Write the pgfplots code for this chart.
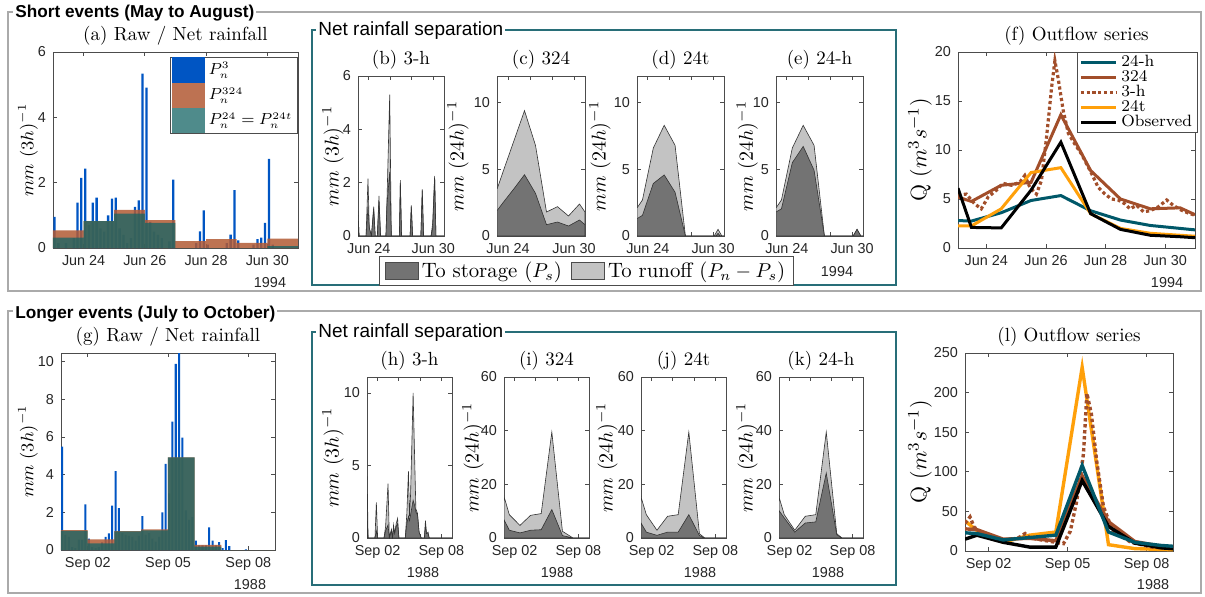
\documentclass[border=0pt]{standalone}
\usepackage{fontspec}
\setsansfont{Liberation Sans}
\usepackage{pgfplots}
\pgfplotsset{compat=1.18}

\definecolor{matblue}{RGB}{0,85,195}
\definecolor{rorange}{RGB}{178,90,52}
\definecolor{rteal}{RGB}{20,100,100}
\definecolor{legorange}{RGB}{189,114,82}
\definecolor{legteal}{RGB}{79,139,139}
\definecolor{lteal}{RGB}{0,88,105}
\definecolor{lbrown}{RGB}{162,78,42}
\definecolor{lorange}{RGB}{255,160,10}
\definecolor{frameteal}{RGB}{40,110,120}
\definecolor{framegray}{RGB}{170,170,170}
\definecolor{stor}{RGB}{115,115,115}
\definecolor{runo}{RGB}{195,195,195}

\pgfplotsset{
  base/.style={
    scale only axis, anchor=south west,
    axis line style={black!70, line width=0.4pt},
    every tick/.append style={black!70, line width=0.4pt},
    major tick length=1.8pt, tick align=inside,
    tick label style={font=\fontsize{7.2}{8.5}\sffamily, text=black!85},
    /pgf/number format/assume math mode=true,
    every axis title shift=0pt,
    title style={font=\fontsize{9.5}{11}\selectfont},
    xmin=0, xmax=8, ymin=0,
    ylabel style={anchor=center},
  },
  mid/.style={base, height=80pt,
    ylabel style={font=\fontsize{10.2}{11}\selectfont}},
  runoff/.style={fill=runo, draw=black!80, line width=0.3pt},
  storage/.style={fill=stor, draw=black!80, line width=0.3pt},
}

\begin{document}
\begin{tikzpicture}
\useasboundingbox (0,0) rectangle (602.5pt,-298pt);
\begin{scope}[x=0.5pt,y=-0.5pt]
\draw[framegray, line width=1pt] (8,12) rectangle (1201,291);
\draw[framegray, line width=1pt] (8,311) rectangle (1201,593);
\draw[frameteal, line width=0.7pt] (312,30) rectangle (896,285);
\draw[frameteal, line width=0.7pt] (312,332) rectangle (896,585);
\node[anchor=west, fill=white, inner xsep=1pt, inner ysep=0.5pt, font=\fontsize{8.6}{10}\sffamily\bfseries] at (13,13) {Short events (May to August)};
\node[anchor=west, fill=white, inner xsep=1pt, inner ysep=0.5pt, font=\fontsize{8.6}{10}\sffamily\bfseries] at (13,314) {Longer events (July to October)};
\node[anchor=west, fill=white, inner xsep=1pt, inner ysep=0pt, font=\fontsize{9.5}{11}\sffamily] at (316,31) {Net rainfall separation};
\node[anchor=west, fill=white, inner xsep=1pt, inner ysep=0pt, font=\fontsize{9.5}{11}\sffamily] at (316,333) {Net rainfall separation};
\end{scope}

% ---------------- (a)
\begin{axis}[base, at={(26.5pt,-124pt)}, width=122.5pt, height=98pt,
  ymax=6, ytick={0,2,4,6}, xtick={1,3,5,7}, xticklabels={Jun 24,Jun 26,Jun 28,Jun 30},
  title={(a) Raw / Net rainfall},
  ylabel={$mm~(3h)^{-1}$},
  ylabel style={font=\fontsize{9.2}{10}\selectfont, at={(axis description cs:-0.102,0.5)}},
  legend style={at={(1,0.975)}, anchor=north east, font=\fontsize{7.6}{8.5}\selectfont,
    draw=black!70, line width=0.4pt, inner xsep=0.5pt, inner ysep=0pt},
  legend cell align=left,
  legend image code/.code={\path (0pt,-6.3pt) rectangle (16.5pt,6.3pt);
    \fill[#1] (0pt,-4.5pt) rectangle (16.5pt,4.5pt);}]
\addplot[ybar, bar width=0.075, bar shift=0pt, fill=matblue, draw=none, forget plot] coordinates {
(0.05,0.95)(0.175,0.15)(0.425,0.15)(0.675,0.3)(0.8,1.39)(0.925,2.15)(1.05,2.43)(1.175,0.7)
(1.3,1.39)(1.425,1.54)(1.55,0.6)(1.675,0.5)(1.8,1.0)(1.925,1.51)(2.05,1.54)(2.175,0.6)
(2.3,0.4)(2.425,0.15)(2.55,0.3)(2.675,1.26)(2.8,1.46)(2.925,5.34)(3.05,4.91)(3.175,0.8)
(3.3,0.5)(3.425,0.4)(3.55,0.3)(3.8,0.2)(3.925,2.09)(4.675,0.15)(4.8,0.51)(4.925,1.15)
(5.05,0.1)(5.675,0.15)(5.8,0.41)(5.925,1.77)(6.05,0.23)(6.55,0.1)(6.675,0.27)(6.8,0.32)
(6.925,0.77)(7.05,2.73)(7.175,0.1)};
\addplot[const plot, fill=rorange, fill opacity=0.85, draw=none, forget plot] coordinates {
(0,0.54)(1,0.82)(2,1.17)(3,0.85)(4,0.21)(5,0.27)(6,0.16)(7,0.29)(8,0.29)} \closedcycle;
\addplot[const plot, fill=rteal, fill opacity=0.75, draw=none, forget plot] coordinates {
(0,0.32)(1,0.82)(2,1.05)(3,0.77)(4,0)(7,0.06)(8,0.06)} \closedcycle;
\addlegendimage{fill=matblue, draw=none}
\addlegendentry{$P_n^3$}
\addlegendimage{fill=legorange, draw=none}
\addlegendentry{$P_n^{324}$}
\addlegendimage{fill=legteal, draw=none}
\addlegendentry{$P_n^{24}=P_n^{24t}$}
\end{axis}

% ---------------- (b)
\begin{axis}[mid, at={(179pt,-118pt)}, width=43pt,
  ymax=6, ytick={0,2,4,6}, xtick={1,3,5,7}, xticklabels={Jun 24,,,Jun 30},
  title={(b) 3-h}, ylabel={$mm~(3h)^{-1}$},
  ylabel style={at={(axis description cs:-0.29,0.5)}}]
\addplot[runoff] coordinates {(0,0.95)(0.1,0)(0.75,0)(0.93,2.15)(1.05,0.3)(1.25,0)(1.46,1.1)(1.6,0)(1.8,0)(1.95,1.5)(2.1,0)(2.6,0)(2.7,1.4)(2.95,5.3)(3.1,0)(3.85,0)(3.94,2.1)(4.05,0)(4.85,0)(4.96,1.15)(5.08,0)(5.85,0)(5.98,1.75)(6.1,0)(6.8,0)(6.95,0.5)(7.13,2.25)(7.25,0)(8,0)} \closedcycle;
\addplot[storage] coordinates {(0,0.95)(0.1,0)(0.75,0)(0.93,1.1)(1.05,0.3)(1.25,0)(1.46,1.0)(1.6,0)(1.8,0)(1.95,1.3)(2.1,0)(2.6,0)(2.7,1.2)(2.95,2.4)(3.1,0)(3.85,0)(3.94,2.0)(4.05,0)(4.85,0)(4.96,1.1)(5.08,0)(5.85,0)(5.98,1.7)(6.1,0)(6.8,0)(6.95,0.3)(7.13,2.2)(7.25,0)(8,0)} \closedcycle;
\end{axis}

% ---------------- (c)
\begin{axis}[mid, at={(248.5pt,-118pt)}, width=44pt,
  ymax=12, ytick={0,5,10}, xtick={1,3,5,7}, xticklabels={Jun 24,,,Jun 30},
  title={(c) 324}, ylabel={$mm~(24h)^{-1}$},
  ylabel style={at={(axis description cs:-0.443,0.5)}},
  legend style={at={(1.017,-0.219)}, anchor=center, font=\fontsize{10.4}{11}\selectfont,
    draw=black!70, line width=0.4pt, inner xsep=2.5pt, inner ysep=0.5pt,
    nodes={inner xsep=1.5pt},
    /tikz/every even column/.append style={column sep=3pt}},
  legend columns=2,
  legend image code/.code={\draw[#1] (0pt,-4.2pt) rectangle (16.7pt,4.2pt);}]
\addplot[runoff, forget plot] coordinates {(0,3.5)(0.5,4.7)(1.5,7.05)(2.5,9.4)(3.5,6.8)(4.5,1.8)(5.5,2.2)(6.5,1.5)(7.5,2.4)(8,1.8)} \closedcycle;
\addplot[storage, forget plot] coordinates {(0,1.9)(0.5,2.45)(1.5,3.5)(2.5,4.6)(3.5,3.2)(4.5,0.85)(5.5,1.05)(6.5,0.75)(7.5,1.2)(8,0.85)} \closedcycle;
\addlegendimage{fill=stor, draw=black!70, line width=0.4pt}
\addlegendentry{To storage ($P_s$)}
\addlegendimage{fill=runo, draw=black!70, line width=0.4pt}
\addlegendentry{To runoff ($P_n-P_s$)}
\end{axis}

% ---------------- (d)
\begin{axis}[mid, at={(318.5pt,-118pt)}, width=43.5pt,
  ymax=12, ytick={0,5,10}, xtick={1,3,5,7}, xticklabels={Jun 24,,,Jun 30},
  title={(d) 24t}, ylabel={$mm~(24h)^{-1}$},
  ylabel style={at={(axis description cs:-0.425,0.5)}}]
\addplot[runoff] coordinates {(0,2.1)(0.5,2.7)(1.5,6.6)(2.5,8.3)(3.5,6.8)(4.45,0)(7.1,0)(7.45,0.5)(7.8,0)(8,0)} \closedcycle;
\addplot[storage] coordinates {(0,1.3)(0.5,1.55)(1.5,3.94)(2.5,4.58)(3.5,3.28)(4.45,0)(7.25,0)(7.45,0.2)(7.65,0)(8,0)} \closedcycle;
\end{axis}

% ---------------- (e)
\begin{axis}[mid, at={(388pt,-118pt)}, width=43.5pt,
  ymax=12, ytick={0,5,10}, xtick={1,3,5,7}, xticklabels={Jun 24,,,Jun 30},
  title={(e) 24-h}, ylabel={$mm~(24h)^{-1}$},
  ylabel style={at={(axis description cs:-0.33,0.5)}}]
\addplot[runoff] coordinates {(0,2.1)(0.5,2.7)(1.5,6.6)(2.5,8.3)(3.5,6.8)(4.45,0)(7.1,0)(7.45,0.5)(7.8,0)(8,0)} \closedcycle;
\addplot[storage] coordinates {(0,1.8)(0.5,2.04)(1.5,5.5)(2.5,6.72)(3.5,4.93)(4.45,0)(7.1,0)(7.45,0.5)(7.8,0)(8,0)} \closedcycle;
\end{axis}

% ---------------- (f)
\begin{axis}[base, at={(479pt,-124pt)}, width=118.5pt, height=98pt,
  xmin=0.05, ymax=20, ytick={0,5,10,15,20}, xtick={1,3,5,7}, xticklabels={Jun 24,Jun 26,Jun 28,Jun 30},
  title={(f) Outflow series}, ylabel={$\mathrm{Q}~(m^3s^{-1})$},
  ylabel style={font=\fontsize{11.2}{12}\selectfont, at={(axis description cs:-0.16,0.5)}},
  legend style={at={(1.013,1)}, anchor=north east, font=\fontsize{8.2}{8.5}\selectfont,
    draw=black!70, line width=0.4pt, inner sep=0.8pt, row sep=-0.6pt, nodes={inner ysep=0.5pt}},
  legend cell align=left,
  legend image code/.code={\draw[#1] (0pt,0pt) -- (17.5pt,0pt);}]
\addplot[lteal, line width=1.5pt] coordinates {(0.05,2.8)(0.5,2.75)(1.5,3.6)(2.5,4.85)(3.5,5.35)(4.5,3.8)(5.5,2.85)(6.5,2.3)(7.5,2.0)(8,1.85)};
\addlegendentry{24-h}
\addplot[lbrown, line width=1.5pt] coordinates {(0.05,5.2)(0.5,4.75)(1.5,6.4)(2.5,6.7)(3.5,13.6)(4.5,7.9)(5.5,5.0)(6.5,4.0)(7.5,4.1)(8,3.4)};
\addlegendentry{324}
\addplot[lbrown, line width=1.6pt, dash pattern=on 1.6pt off 1.3pt] coordinates {(0.05,5.4)(0.33,5.5)(0.61,4.5)(0.83,4.0)(1.06,5.2)(1.34,5.9)(1.56,6.6)(1.84,6.4)(2.12,6.7)(2.29,7.4)(2.46,6.2)(2.68,5.5)(2.85,6.9)(3.02,11.3)(3.19,16.4)(3.3,19.1)(3.41,17.3)(3.58,14)(3.75,11.7)(3.97,10.6)(4.19,9.6)(4.36,8.6)(4.53,7.6)(4.75,6.2)(4.98,5.5)(5.2,5.0)(5.42,4.9)(5.65,4.5)(5.82,4.0)(6.04,4.35)(6.27,3.7)(6.49,3.8)(6.77,4.2)(7.05,4.9)(7.27,4.35)(7.55,3.85)(7.83,3.5)(8,3.35)};
\addlegendentry{3-h}
\addplot[lorange, line width=1.5pt] coordinates {(0.05,2.25)(0.5,2.25)(1.5,4.0)(2.5,7.7)(3.5,8.2)(4.5,3.5)(5.5,2.0)(6.5,1.5)(7.5,1.3)(8,1.2)};
\addlegendentry{24t}
\addplot[black, line width=1.5pt] coordinates {(0.05,6.1)(0.5,2.1)(1.5,2.05)(2.5,5.9)(3.5,10.8)(4.5,3.5)(5.5,1.9)(6.5,1.3)(7.5,1.15)(8,1.05)};
\addlegendentry{Observed}
\end{axis}

% ---------------- (g)
\begin{axis}[base, at={(30.5pt,-275pt)}, width=107pt, height=98.5pt,
  ymax=10.45, ytick={0,2,4,6,8,10}, xtick={1,4,7}, xticklabels={Sep 02,Sep 05,Sep 08},
  title={(g) Raw / Net rainfall},
  ylabel={$mm~(3h)^{-1}$},
  ylabel style={font=\fontsize{9}{10}\selectfont, at={(axis description cs:-0.154,0.5)}}]
\addplot[ybar, bar width=0.075, bar shift=0pt, fill=matblue, draw=none, forget plot] coordinates {
(0.04,5.49)(0.165,0.8)(0.29,0.7)(0.415,0.15)(0.54,0.1)(0.665,0.55)(0.79,0.55)(0.915,2.42)
(1.04,0.6)(1.165,0.15)(1.29,0.1)(1.415,0.15)(1.54,0.4)(1.665,0.7)(1.79,0.88)(1.915,2.35)
(2.04,4.18)(2.165,2.22)(2.29,0.9)(2.415,0.8)(2.54,0.75)(2.665,0.7)(2.79,0.5)(2.915,0.75)
(3.04,1.8)(3.165,0.8)(3.29,0.9)(3.415,0.6)(3.54,0.45)(3.665,0.7)(3.79,2.0)(3.915,4.57)
(4.04,3.0)(4.165,6.81)(4.29,9.88)(4.415,10.6)(4.54,5.96)(4.665,2.1)(4.79,1.6)(4.915,1.75)
(5.04,0.5)(5.165,0.25)(5.29,0.25)(5.415,0.25)(5.54,1.2)(5.665,0.5)(5.79,0.25)(5.915,0.42)
(6.04,0.1)(6.165,0.53)(6.29,0.2)(6.915,0.04)};
\addplot[const plot, fill=rorange, fill opacity=0.85, draw=none, forget plot] coordinates {
(0,1.06)(1,0.57)(2,1.0)(3,1.1)(4,4.92)(5,0.27)(6,0)(8,0)} \closedcycle;
\addplot[const plot, fill=rteal, fill opacity=0.75, draw=none, forget plot] coordinates {
(0,1.01)(1,0.35)(2,0.99)(3,1.04)(4,4.92)(5,0.18)(6,0)(8,0)} \closedcycle;
\end{axis}

% ---------------- (h)
\begin{axis}[mid, at={(183.5pt,-269pt)}, width=42.5pt, height=80.5pt,
  ymax=11.1, ytick={0,5,10}, xtick={1,3,5,7}, xticklabels={Sep 02,,,Sep 08},
  title={(h) 3-h}, ylabel={$mm~(3h)^{-1}$},
  ylabel style={at={(axis description cs:-0.4,0.5)}}]
\addplot[runoff] coordinates {(0,5.2)(0.1,0)(0.75,0)(0.88,2.45)(1.0,0)(1.6,0)(1.75,0.8)(1.98,3.75)(2.1,0)(2.3,0.6)(2.4,0)(2.5,0.9)(2.6,0.3)(2.75,1.0)(2.88,1.35)(3.0,0)(3.6,0)(3.75,1.7)(3.9,4.6)(4.0,1.5)(4.1,3.0)(4.34,10.0)(4.5,5.0)(4.6,2.0)(4.75,1.7)(4.9,0.4)(5.1,0)(5.4,0)(5.5,1.2)(5.6,0.3)(5.75,0.4)(5.85,0)(8,0)} \closedcycle;
\addplot[storage] coordinates {(0,2.0)(0.1,0)(0.75,0)(0.88,0.5)(1.0,0)(1.6,0)(1.75,0.5)(1.98,0.9)(2.1,0)(2.3,0.5)(2.4,0)(2.5,0.7)(2.6,0.3)(2.75,0.8)(2.88,1.0)(3.0,0)(3.6,0)(3.75,1.0)(3.9,1.5)(4.0,1.2)(4.1,1.6)(4.34,2.6)(4.5,2.2)(4.6,1.8)(4.75,1.6)(4.9,0.4)(5.1,0)(5.4,0)(5.5,0.9)(5.6,0.3)(5.75,0.3)(5.85,0)(8,0)} \closedcycle;
\end{axis}

% ---------------- (i)
\begin{axis}[mid, at={(252pt,-269pt)}, width=42.5pt, height=80.5pt,
  ymax=60, ytick={0,20,40,60}, xtick={1,3,5,7}, xticklabels={Sep 02,,,Sep 08},
  title={(i) 324}, ylabel={$mm~(24h)^{-1}$},
  ylabel style={at={(axis description cs:-0.365,0.5)}}]
\addplot[runoff] coordinates {(0,15.5)(0.5,8.7)(1.5,4.7)(2.5,8.45)(3.5,9.1)(4.5,39.5)(5.5,2.5)(6.5,0)(8,0)} \closedcycle;
\addplot[storage] coordinates {(0,6.8)(0.5,2.9)(1.5,1.9)(2.5,2.9)(3.5,3.1)(4.5,10.6)(5.5,0.9)(6.5,0)(8,0)} \closedcycle;
\end{axis}

% ---------------- (j)
\begin{axis}[mid, at={(320.5pt,-269pt)}, width=42.5pt, height=80.5pt,
  ymax=60, ytick={0,20,40,60}, xtick={1,3,5,7}, xticklabels={Sep 02,,,Sep 08},
  title={(j) 24t}, ylabel={$mm~(24h)^{-1}$},
  ylabel style={at={(axis description cs:-0.4,0.5)}}]
\addplot[runoff] coordinates {(0,15.3)(0.5,8.7)(1.5,2.9)(2.5,8.1)(3.5,8.7)(4.5,39.5)(5.5,1.6)(6,0)(8,0)} \closedcycle;
\addplot[storage] coordinates {(0,5.6)(0.5,2.2)(1.5,1.0)(2.5,2.2)(3.5,2.2)(4.5,8.7)(5.5,0.9)(6,0)(8,0)} \closedcycle;
\end{axis}

% ---------------- (k)
\begin{axis}[mid, at={(389.5pt,-269pt)}, width=42pt, height=80.5pt,
  ymax=60, ytick={0,20,40,60}, xtick={1,3,5,7}, xticklabels={Sep 02,,,Sep 08},
  title={(k) 24-h}, ylabel={$mm~(24h)^{-1}$},
  ylabel style={at={(axis description cs:-0.38,0.5)}}]
\addplot[runoff] coordinates {(0,15.3)(0.5,8.7)(1.5,2.9)(2.5,8.1)(3.5,8.7)(4.5,39.5)(5.5,1.6)(6,0)(8,0)} \closedcycle;
\addplot[storage] coordinates {(0,10.2)(0.5,7.5)(1.5,2.2)(2.5,5.6)(3.5,6.0)(4.5,24.2)(5.5,1.2)(6,0)(8,0)} \closedcycle;
\end{axis}

% ---------------- (l)
\begin{axis}[base, at={(482.5pt,-275.5pt)}, width=104pt, height=99pt,
  xmin=0.1, ymax=250, ytick={0,50,100,150,200,250}, xtick={1,4,7}, xticklabels={Sep 02,Sep 05,Sep 08},
  title={(l) Outflow series}, ylabel={$\mathrm{Q}~(m^3s^{-1})$},
  ylabel style={font=\fontsize{11.2}{12}\selectfont, at={(axis description cs:-0.216,0.5)}}]
\addplot[lorange, line width=1.7pt] coordinates {(0.1,38)(0.55,26)(1.55,11)(2.55,20)(3.55,24)(4.55,232)(5.55,8)(6.55,3)(7.55,2)(8,1.7)};
\addplot[lbrown, line width=1.7pt, dash pattern=on 1.7pt off 1.3pt] coordinates {(0.1,35)(0.29,43)(0.45,30)(0.7,24)(1.0,20)(1.55,14)(2.1,16)(2.38,22)(2.55,17)(3.0,14)(3.55,11)(3.84,9.3)(4.1,25)(4.35,64)(4.6,123)(4.73,199)(4.9,173)(5.1,114)(5.36,56)(5.7,26)(6.4,11)(7.2,5)(8,3)};
\addplot[lbrown, line width=1.7pt] coordinates {(0.1,28)(0.55,27)(1.55,15)(2.55,16)(3.55,13)(4.55,95)(5.55,37)(6.55,12)(7.55,6)(8,4)};
\addplot[black, line width=1.7pt] coordinates {(0.1,15)(0.55,20)(1.55,11)(2.55,5)(3.55,5)(4.55,89)(5.55,31)(6.55,10)(7.55,4)(8,3)};
\addplot[lteal, line width=1.7pt] coordinates {(0.1,23)(0.55,22)(1.55,14)(2.55,17)(3.55,20)(4.55,108)(5.55,24)(6.55,11)(7.55,7)(8,6)};
\end{axis}

% year labels
\begin{scope}[every node/.style={font=\fontsize{7.2}{8.5}\sffamily, text=black!85}]
\node at (135pt,-141.5pt) {1994};
\node at (418.5pt,-136pt) {1994};
\node at (583.5pt,-141.5pt) {1994};
\node at (125pt,-292.5pt) {1988};
\node at (211.5pt,-286.5pt) {1988};
\node at (278.5pt,-286.5pt) {1988};
\node at (350pt,-286.5pt) {1988};
\node at (414pt,-286.5pt) {1988};
\node at (576.5pt,-292.5pt) {1988};
\end{scope}
\end{tikzpicture}
\end{document}
